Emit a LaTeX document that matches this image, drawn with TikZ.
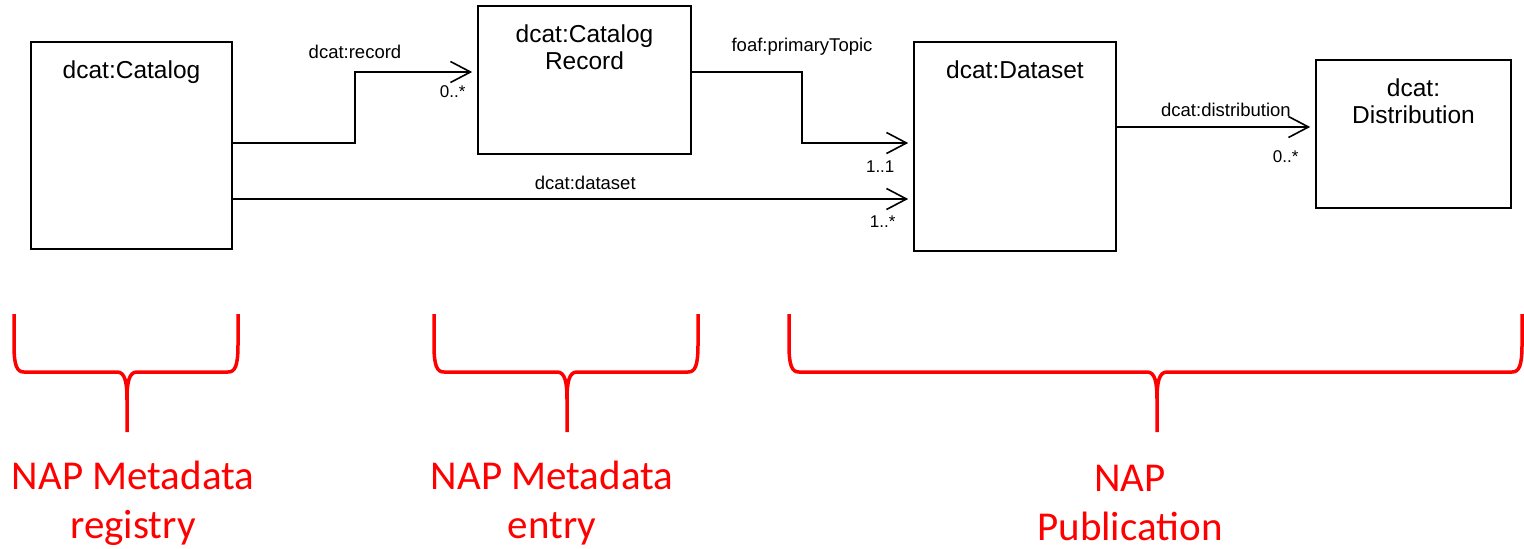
\documentclass[tikz,border=0pt]{standalone}
\usepackage{fontspec}
\setmainfont{Liberation Sans}
\newfontfamily\napfont{Carlito}
\usepackage{xcolor}
\usepackage{tikz}
\usetikzlibrary{arrows.meta}
\usetikzlibrary{positioning}
\definecolor{napred}{RGB}{255,0,0}

\begin{document}
\begin{tikzpicture}[x=1pt,y=-1pt,
	umlbox/.style={draw,line width=1.6pt,inner sep=0pt},
	boxtitle/.style={anchor=north,inner sep=0pt,align=center,font=\fontsize{24.5}{27}\selectfont},
	role/.style={inner sep=0pt,font=\fontsize{18.5}{20}\selectfont},
	mult/.style={inner sep=0pt,font=\fontsize{17}{19}\selectfont},
	assoc/.style={line width=1.6pt,-{Straight Barb[length=20pt,width=21pt]},shorten >=5pt},
	napbrace/.style={napred,line width=3.5pt,line join=round},
	naplabel/.style={napred,anchor=north,inner sep=0pt,align=center,font=\napfont\fontsize{41}{49}\selectfont}]
	\useasboundingbox (0,0) rectangle (1524,549);

	% classes
	\node [umlbox,minimum width=201pt,minimum height=207pt] (catalog) at (131.5,145.5) {};
	\node [boxtitle] (catalogtitle) at ([yshift=-19pt]catalog.north) {dcat:Catalog};

	\node [umlbox,minimum width=213pt,minimum height=148pt] (record) at (584.5,80) {};
	\node [boxtitle] (recordtitle) at ([yshift=-19pt]record.north) {dcat:Catalog\\Record};

	\node [umlbox,minimum width=202pt,minimum height=209pt] (dataset) at (1015,146.5) {};
	\node [boxtitle] (datasettitle) at ([yshift=-19pt]dataset.north) {dcat:Dataset};

	\node [umlbox,minimum width=195pt,minimum height=148pt] (distribution) at (1413.5,134) {};
	\node [boxtitle] (distributiontitle) at ([yshift=-19pt]distribution.north) {dcat:\\Distribution};

	% associations
	\draw[assoc] ([yshift=2.5pt]catalog.east) -| (355,72) node[role,above=13pt]{dcat:record}
		-- ([yshift=8pt]record.west) node[mult,below left=13pt and 11pt]{0..*};

	\draw[assoc] ([yshift=8pt]record.east) -- (802,72) node[role,above=16pt]{foaf:primaryTopic}
		|- ([yshift=3.5pt]dataset.west) node[mult,below left=17pt and 18pt]{1..1};

	\draw[assoc] ([yshift=-53.5pt]catalog.east) coordinate (dsstart)
		-- node[role,above=9pt,pos=.518]{dcat:dataset} (dataset.west |- dsstart)
		node[mult,below left=16pt and 17pt]{1..*};

	\draw[assoc] ([yshift=19.5pt]dataset.east) coordinate (diststart)
		-- node[role,above=10pt,pos=.55]{dcat:distribution} (distribution.west |- diststart)
		node[mult,below left=23pt and 16pt]{0..*};

	% braces
	\foreach \bl/\br/\bt in {14/238/127, 434/698/567, 789/1522/1157}{
		\draw[napbrace] (\bl,314) -- (\bl,345) .. controls (\bl,366) and (\bl+3,372) .. (\bl+10,372)
			-- (\bt-10,372) .. controls (\bt-2,372) and (\bt,382) .. (\bt,400)
			.. controls (\bt,382) and (\bt+2,372) .. (\bt+10,372)
			-- (\br-10,372) .. controls (\br-3,372) and (\br,366) .. (\br,345) -- (\br,314)
			(\bt,400) -- (\bt,432);
	}

	\node [naplabel] (lblregistry) at (133,461) {NAP Metadata\\registry};
	\node [naplabel] (lblentry) at (552,461) {NAP Metadata\\entry};
	\node [naplabel] (lblpublication) at (1130,465) {NAP\\Publication};
\end{tikzpicture}
\end{document}
